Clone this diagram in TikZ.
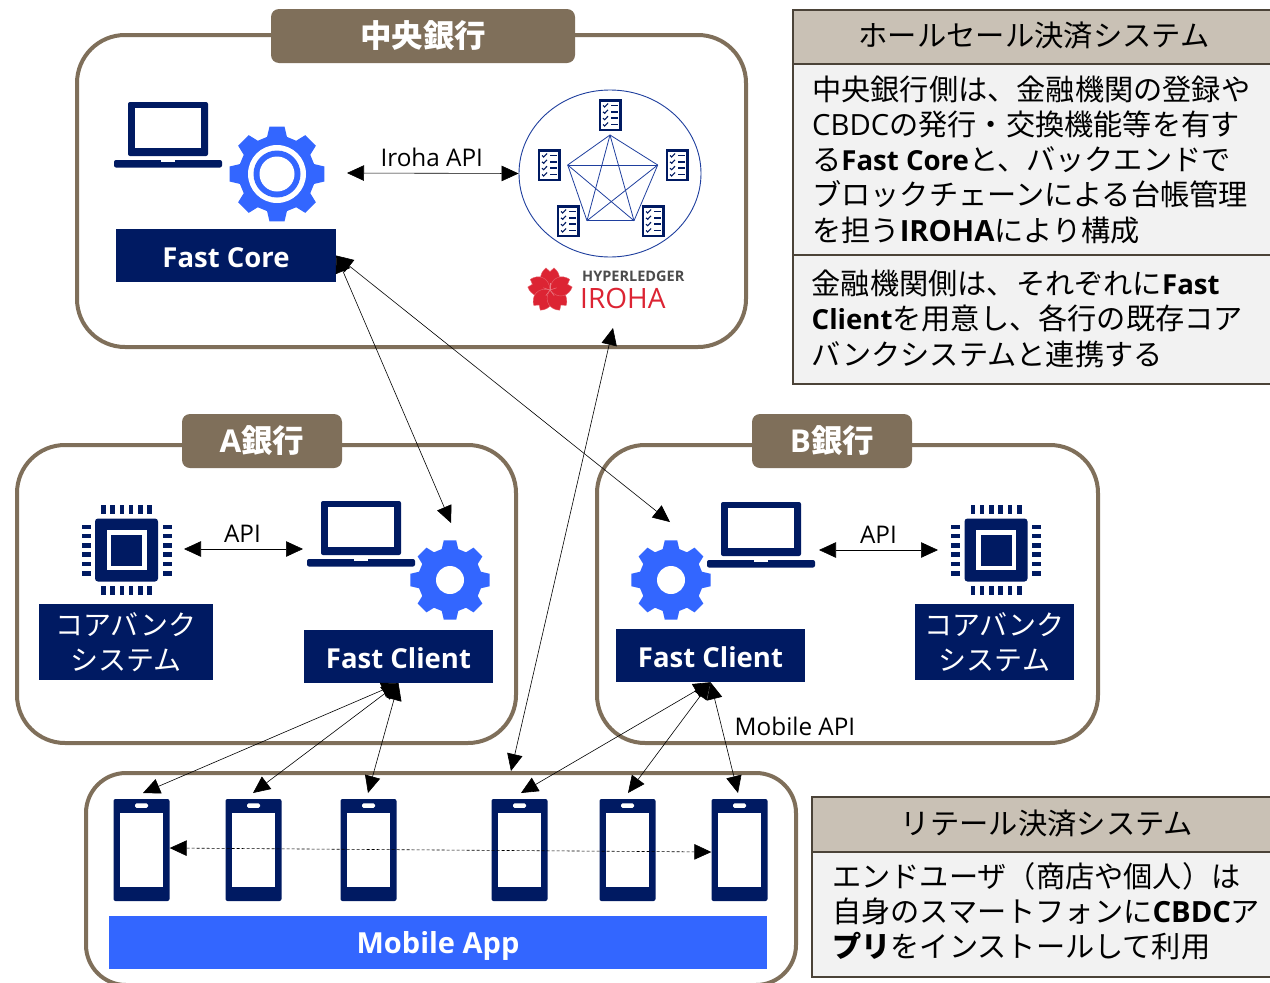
\documentclass[tikz,border=0pt]{standalone}
\usepackage{fontspec}
\setmainfont{Open Sans}
\newfontfamily\jp{Noto Sans CJK JP}
\usetikzlibrary{arrows.meta,positioning,shapes.geometric}
\definecolor{navy}{HTML}{001A62}
\definecolor{iconblue}{HTML}{3366FF}
\definecolor{brownframe}{HTML}{7F6F5A}
\definecolor{panelhead}{HTML}{C9C1B5}
\definecolor{panelbody}{HTML}{F2F2F2}
\definecolor{panelline}{HTML}{4B4338}
\definecolor{ringblue}{HTML}{1F3F9E}
\definecolor{irohared}{HTML}{DC2433}
\newcommand{\latb}[1]{{\fontsize{27.6}{35.2}\selectfont\bfseries #1}}
\tikzset{
  laptopicon/.pic={
    \fill[navy,rounded corners=2pt] (0,0) rectangle (80,54);
    \fill[white] (7,6) rectangle (73,46);
    \fill[navy,rounded corners=2pt] (-14,58) rectangle (94,65.5);
    \fill[white] (33,58) rectangle (47,60);
  },
  gearicon/.pic={
    \fill[iconblue] (-9:1) foreach \a in {0,45,...,315} { -- (\a-9:1) -- (\a+9:1) -- (\a+15:.8) -- (\a+30:.8) } -- cycle;
  },
  chipicon/.pic={
    \fill[navy,rounded corners=3pt] (-31.5,-31.5) rectangle (31.5,31.5);
    \fill[white] (-20,-20) rectangle (20,20);
    \fill[navy] (-15.5,-15.5) rectangle (15.5,15.5);
    \foreach \p in {-23.2,-13.9,-4.6,4.6,13.9,23.2} {
      \fill[navy] (\p-2.3,-45) rectangle (\p+2.3,-36);
      \fill[navy] (\p-2.3,36) rectangle (\p+2.3,45);
      \fill[navy] (-45,\p-2.3) rectangle (-36,\p+2.3);
      \fill[navy] (36,\p-2.3) rectangle (45,\p+2.3);
    }
  },
  docicon/.pic={
    \fill[navy] (-11.5,-16) rectangle (11.5,16);
    \fill[white] (-9,-13.5) rectangle (9,13.5);
    \foreach \r in {-9.5,-3.2,3.2,9.5} {
      \draw[navy,line width=1.1pt] (-7,\r) -- (-5.3,\r+1.5) -- (-2,\r-2);
      \draw[navy,line width=1.5pt] (1,\r) -- (7.5,\r);
    }
  },
  sakuraicon/.pic={
    \foreach \a in {0,72,144,216,288}
      \fill[irohared, draw=irohared!70!white, line width=.4pt, rotate=\a] (0,0) .. controls (-13,-5) and (-11,-17) .. (-4,-22) -- (0,-18.5) -- (4,-22) .. controls (11,-17) and (13,-5) .. (0,0);
    \foreach \a in {36,108,180,252,324}
      \draw[irohared!60!white, line width=.5pt, rotate=\a] (0,0) -- (0,7);
  },
}
\begin{document}
\begin{tikzpicture}[
  x=1pt, y=-1pt,
  frame/.style={rectangle, draw=brownframe, line width=4pt, rounded corners=48pt, fill=white},
  banktab/.style={rectangle, fill=brownframe, rounded corners=8pt, text=white, minimum height=54pt, text height=26pt, text depth=3pt, font=\fontsize{31.5}{31.5}\selectfont\bfseries},
  block/.style={rectangle, fill=navy, text=white, minimum height=53pt, align=center, text height=23.5pt, text depth=0pt, font=\fontsize{27.5}{27.5}\selectfont\bfseries},
  coreblock/.style={rectangle, fill=navy, text=white, minimum height=76pt, align=center, font=\fontsize{28}{35}\selectfont\jp},
  phone/.style={rectangle, fill=navy, rounded corners=2pt, minimum width=56pt, minimum height=102pt, inner sep=0pt},
  paneltop/.style={rectangle, draw=panelline, line width=2pt, fill=panelhead, anchor=north west, minimum height=54pt, text height=24pt, text depth=5pt, font=\fontsize{29.3}{35}\selectfont\jp},
  panelbox/.style={rectangle, draw=panelline, line width=2pt, fill=panelbody, anchor=north west},
  paneltext/.style={anchor=north west, inner sep=0pt, align=left, font=\fontsize{29.2}{35.2}\selectfont},
  apilabel/.style={font=\fontsize{24.3}{24.3}\selectfont},
  link/.style={{Triangle[length=17pt,width=15.5pt]}-{Triangle[length=17pt,width=15.5pt]}, line width=.6pt},
]
\useasboundingbox (0,0) rectangle (1270,983);

% frames
\node[frame, minimum width=669pt, minimum height=312pt] (centralframe) at (411.5,191) {};
\node[frame, minimum width=499pt, minimum height=298pt] (aframe) at (266.5,594) {};
\node[frame, minimum width=501pt, minimum height=298pt] (bframe) at (847.5,594) {};
\node[frame, minimum width=710pt, minimum height=212pt, rounded corners=40pt] (mobileframe) at (441,879) {};
\node[banktab, minimum width=304pt] (centraltab) at (423,36) {\jp 中央銀行};
\node[banktab, minimum width=160pt] (atab) at (262,441) {A{\jp 銀行}};
\node[banktab, minimum width=160pt] (btab) at (832,441) {B{\jp 銀行}};

% central bank
\pic at (128,102) {laptopicon};
\pic[scale=48] at (277,174) {gearicon};
\fill[white] (277,174) circle (29);
\fill[iconblue] (277,174) circle (23.5);
\fill[white] (277,174) circle (17.5);
\node[block, minimum width=220pt] (fastcore) at (226,255.5) {Fast Core};

\node[draw=ringblue, line width=.9pt, ellipse, minimum width=182pt, minimum height=167pt, inner sep=0pt] (ledger) at (610,173.5) {};
\coordinate (n1) at (610,135);
\coordinate (n2) at (657.7,165);
\coordinate (n3) at (634,220.7);
\coordinate (n4) at (587,220.7);
\coordinate (n5) at (567.7,165);
\foreach \a/\b in {1/2,1/3,1/4,1/5,2/3,2/4,2/5,3/4,3/5,4/5}
  \draw[ringblue, line width=.8pt] (n\a) -- (n\b);
\pic at (610,115) {docicon};
\pic at (549,165) {docicon};
\pic at (677,165) {docicon};
\pic at (568,221) {docicon};
\pic at (653,221) {docicon};

% iroha logo
\pic at (550,290) {sakuraicon};
\node[anchor=west, inner sep=0pt, text=black!70, font=\fontsize{14.5}{15}\selectfont\bfseries] (hyperledger) at (582,276) {HYPERLEDGER};
\node[anchor=west, inner sep=0pt, text=irohared, font=\fontsize{28}{28}\selectfont] (iroha) at (580,298) {IROHA};

% bank A
\pic at (126.5,550) {chipicon};
\pic at (321,501) {laptopicon};
\pic[scale=40] at (450,580) {gearicon};
\fill[white] (450,580) circle (14);
\node[coreblock, minimum width=174pt] (corea) at (126,642) {コアバンク\\システム};
\node[block, minimum width=189pt] (clienta) at (398.5,656.5) {Fast Client};

% bank B
\pic at (721,502) {laptopicon};
\pic[scale=40] at (671,580) {gearicon};
\fill[white] (671,580) circle (14);
\pic at (996,550) {chipicon};
\node[block, minimum width=189pt] (clientb) at (710.5,655.5) {Fast Client};
\node[coreblock, minimum width=159pt] (coreb) at (994.5,642) {コアバンク\\システム};

% phones
\node[phone] (p1) at (141.5,850) {};
\node[phone, right of=p1, node distance=112pt] (p2) {};
\node[phone, right of=p2, node distance=115pt] (p3) {};
\node[phone, right of=p3, node distance=151pt] (p4) {};
\node[phone, right of=p4, node distance=108pt] (p5) {};
\node[phone, right of=p5, node distance=112pt] (p6) {};
\foreach \n in {p1,p2,p3,p4,p5,p6} {
  \fill[white] ([xshift=6.7pt,yshift=-14pt]\n.north west) rectangle ([xshift=-6.7pt,yshift=14pt]\n.south east);
  \fill[white,rounded corners=1.5pt] ([xshift=-6.5pt,yshift=-4.5pt]\n.north) rectangle ([xshift=6.5pt,yshift=-9pt]\n.north);
}
\node[rectangle, fill=iconblue, text=white, minimum width=658pt, minimum height=53pt, text height=21pt, text depth=0pt, font=\fontsize{29}{29}\selectfont\bfseries] (mobileapp) at (438,942.5) {Mobile App};

% end points
\coordinate (irohaleft) at (347,173);
\coordinate (tipa) at (451,523);
\coordinate (tipb) at (670,522);
\coordinate (tipiroha) at (613,328);
\coordinate (tipmobile) at (511,771);
\coordinate (tipca) at (184,549);
\coordinate (tipla) at (303,549);
\coordinate (tiplb) at (819,550);
\coordinate (tipcb) at (938,550);
\coordinate (t1) at (143,793);
\coordinate (t2) at (253,793);
\coordinate (t3) at (368,793);
\coordinate (t4) at (521,793);
\coordinate (t5) at (628,793);
\coordinate (t6) at (738,793);

% connectors
\draw[link] (irohaleft) -- node[above=3pt, xshift=-1pt, apilabel] (irohaapi) {Iroha API} (ledger.west);
\draw[link] (fastcore.east) -- (tipa);
\draw[link] (fastcore.east) -- (tipb);
\draw[link] (tipiroha) -- (tipmobile);
\draw[link] (tipca) -- node[above=3pt, xshift=-1pt, apilabel] (apia) {API} (tipla);
\draw[link] (tiplb) -- node[above=3pt, apilabel] (apib) {API} (tipcb);
\draw[link] (clienta.south) -- (t1);
\draw[link] (clienta.south) -- (t2);
\draw[link] (clienta.south) -- (t3);
\draw[link] (clientb.south) -- (t4);
\draw[link] (clientb.south) -- (t5);
\draw[link] (clientb.south) -- (t6);
\draw[link, densely dashed] ([yshift=2pt]p1.east) -- ([yshift=-2pt]p6.west);
\node[apilabel] (mobileapi) at (795,726) {Mobile API};

% wholesale panel
\node[paneltop, minimum width=490pt] (wholehead) at (792,9) {\hspace*{-8pt}ホールセール決済システム};
\node[panelbox, minimum width=490pt, minimum height=191pt] (wholeone) at (792,63) {};
\node[panelbox, minimum width=490pt, minimum height=129pt] (wholetwo) at (792,254) {};
\node[paneltext] (wholeonetext) at (812,75.5) {{\jp 中央銀行側は、金融機関の登録や}\\CBDC{\jp の発行・交換機能等を有す}\\{\jp る}\latb{Fast Core}{\jp と、バックエンドで}\\{\jp ブロックチェーンによる台帳管理}\\{\jp を担う}\textbf{IROHA}{\jp により構成}};
\node[paneltext] (wholetwotext) at (811.5,270) {{\jp 金融機関側は、それぞれに}\latb{Fast}\\\latb{Client}{\jp を用意し、各行の既存コア}\\{\jp バンクシステムと連携する}};

% retail panel
\node[paneltop, minimum width=471pt, minimum height=55pt] (retailhead) at (811,796) {\hspace*{-1pt}リテール決済システム};
\node[panelbox, minimum width=471pt, minimum height=125pt] (retailbody) at (811,851) {};
\node[paneltext] (retailtext) at (832,862) {{\jp エンドユーザ（商店や個人）は}\\{\jp 自身のスマートフォンに}\textbf{CBDC}{\jp ア}\\{\jp\bfseries プリ}{\jp をインストールして利用}};
\end{tikzpicture}
\end{document}
